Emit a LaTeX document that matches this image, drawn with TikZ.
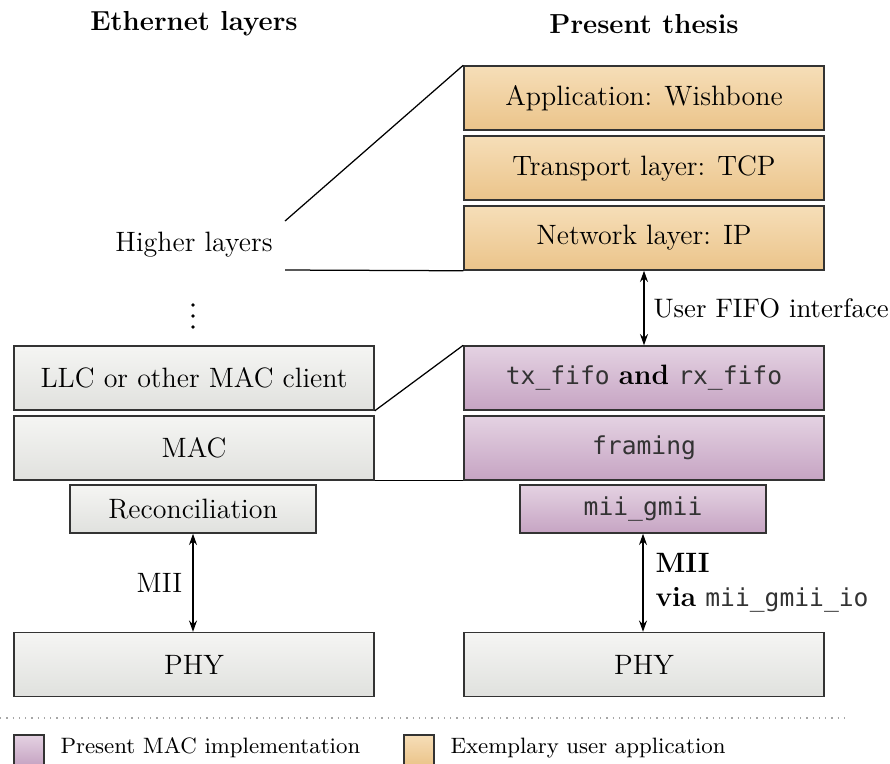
\documentclass[tikz,border=0pt]{standalone}
\usepackage{fontspec}
\setmonofont{DejaVu Sans Mono}[Scale=0.88]
\usetikzlibrary{arrows.meta}
\definecolor{grayT}{HTML}{F5F5F3}
\definecolor{grayB}{HTML}{E0E1DE}
\definecolor{purT}{HTML}{E4D2E2}
\definecolor{purB}{HTML}{C6A4C3}
\definecolor{orT}{HTML}{F6DEB8}
\definecolor{orB}{HTML}{EBC48A}
\definecolor{edge}{HTML}{333333}
\definecolor{monoc}{HTML}{333333}
\newcommand{\code}[1]{{\color{monoc}\mdseries\texttt{#1}}}
\tikzset{
  layer/.style={draw=edge, line width=0.6pt, minimum width=144pt, minimum height=25.6pt, inner sep=0pt, font=\fontsize{11.2}{13}\selectfont},
  narrow/.style={minimum width=98.4pt, minimum height=19.2pt},
  graybox/.style={layer, top color=grayT, bottom color=grayB},
  purbox/.style={layer, top color=purT, bottom color=purB},
  orbox/.style={layer, top color=orT, bottom color=orB},
  lbl/.style={font=\fontsize{11.2}{13}\selectfont, inner sep=0pt},
  leg/.style={font=\fontsize{8.9}{11}\selectfont, inner sep=0pt},
  hdr/.style={font=\fontsize{11}{13}\selectfont\bfseries, inner sep=0pt},
  conn/.style={line width=0.5pt},
  dot/.style={fill=black, circle, inner sep=0pt, minimum size=1.5pt},
  legbox/.style={draw=edge, line width=0.5pt, minimum width=12pt, minimum height=12pt, inner sep=0pt},
  biarrow/.style={conn, {Stealth[length=4.5pt,width=3.2pt]}-{Stealth[length=4.5pt,width=3.2pt]}},
}
\begin{document}
\begin{tikzpicture}[x=0.4pt, y=-0.4pt]
\useasboundingbox (0,0) rectangle (890,763);
% headers
\node[hdr] (hL) at (194,24) {Ethernet layers};
\node[hdr] (hR) at (644,24) {Present thesis};
% right column
\node[orbox] (app) at (644,98) {Application: Wishbone};
\node[orbox] (tcp) at (644,168) {Transport layer: TCP};
\node[orbox] (ip) at (644,238) {Network layer: IP};
\node[purbox] (fifo) at (644,378) {\code{tx\_fifo} \textbf{and} \code{rx\_fifo}};
\node[purbox] (framing) at (644,448) {\code{framing}};
\node[purbox, narrow] (mii) at (643,509) {\code{mii\_gmii}};
\node[graybox] (phyR) at (644,664.5) {PHY};
% left column
\node[graybox] (llc) at (194,378) {LLC or other MAC client};
\node[graybox] (mac) at (194,448) {MAC};
\node[graybox, narrow] (rec) at (193,509) {Reconciliation};
\node[graybox] (phyL) at (194,664.5) {PHY};
% higher layers
\node[lbl] (higher) at (194,245) {Higher layers};
\node[dot] (d1) at (193,305) {};
\node[dot] (d2) at (193,316) {};
\node[dot] (d3) at (193,327) {};
\coordinate (hlA) at (285,221);
\coordinate (hlB) at (285,270);
\draw[conn] (hlA) -- (app.north west);
\draw[conn] (hlB) -- (ip.south west);
\draw[conn] (llc.south east) -- (fifo.north west);
\draw[conn] (mac.south east) -- (framing.south west);
% arrows
\draw[biarrow] (ip.south) -- (fifo.north) node[midway, right=3.6pt, lbl, font=\fontsize{10.7}{13}\selectfont] (ufi) {User FIFO interface};
\draw[biarrow] (rec.south) -- (rec.south |- phyL.north) node[midway, left=4pt, lbl] (miiL) {MII};
\draw[biarrow] (mii.south) -- (mii.south |- phyR.north);
\node[lbl, anchor=west] (miiR) at (655,563) {\textbf{MII}};
\node[lbl, anchor=west] (via) at (655,600) {\textbf{via} \code{mii\_gmii\_io}};
% separator
\coordinate (sepA) at (0,718);
\coordinate (sepB) at (850,718);
\draw[gray!70, dotted, line width=0.5pt] (sepA) -- (sepB);
% legend
\node[legbox, top color=purT, bottom color=purB] (legP) at (29,750) {};
\node[leg, anchor=west] (legPt) at (60,748) {Present MAC implementation};
\node[legbox, top color=orT, bottom color=orB] (legO) at (419,750) {};
\node[leg, anchor=west] (legOt) at (450,748) {Exemplary user application};
\end{tikzpicture}
\end{document}
